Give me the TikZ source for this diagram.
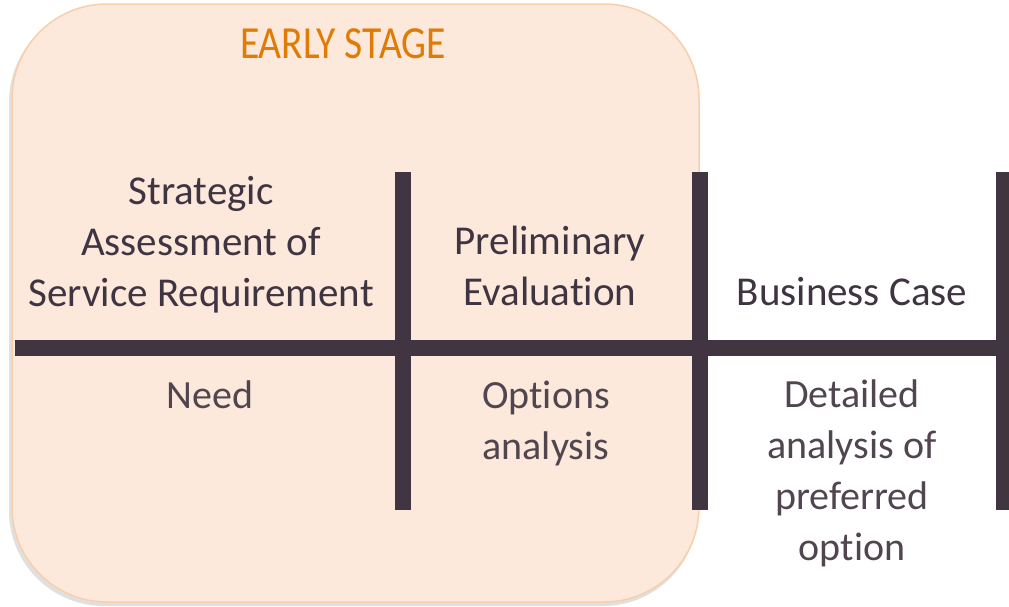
\documentclass[tikz,border=0pt]{standalone}
\usepackage{fontspec}
\setmainfont{Carlito}[RawFeature={-liga;-clig}]
\definecolor{barcol}{HTML}{413541}
\definecolor{txtcol}{HTML}{3F3441}
\definecolor{lighttxt}{HTML}{51464F}
\definecolor{panelfill}{HTML}{FCE9DB}
\definecolor{paneledge}{HTML}{F8CFAA}
\definecolor{stagecol}{HTML}{E07B06}
\tikzset{
  barline/.style={draw=barcol, line width=16pt},
  barshadow/.style={draw=black, opacity=0.18, line width=16pt},
  headtext/.style={text=txtcol, font=\fontsize{41}{50.7}\selectfont, align=center, inner sep=0pt, anchor=base},
  subtext/.style={text=lighttxt, font=\fontsize{40}{50.7}\selectfont, align=center, inner sep=0pt, anchor=base},
}
\begin{document}
\begin{tikzpicture}[x=1pt,y=-1pt]
\useasboundingbox (0,0) rectangle (1009,606);
% early stage panel
\fill[black,opacity=0.12,rounded corners=95pt] (9,7) rectangle (698,606);
\draw[fill=panelfill, draw=paneledge, line width=1.5pt, rounded corners=95pt] (12,4) rectangle (699,602);
\node[text=stagecol, font=\fontsize{46}{50}\selectfont, inner sep=0pt, anchor=base] (stage) at (343,58) {\scalebox{0.86}[1]{EARLY STAGE}};
% coordinates
\coordinate (hL) at (15,348);
\coordinate (hR) at (1009,348);
\coordinate (v1t) at (403,172);
\coordinate (v1b) at (403,510);
\coordinate (v2t) at (700,172);
\coordinate (v2b) at (700,510);
\coordinate (v3t) at (1004,172);
\coordinate (v3b) at (1004,510);
% shadows
\begin{scope}[shift={(1.5,3)}]
\draw[barshadow] (hL) -- (hR);
\draw[barshadow] (v1t) -- (v1b);
\draw[barshadow] (v2t) -- (v2b);
\draw[barshadow] (v3t) -- (v3b);
\end{scope}
% bars
\draw[barline] (hL) -- (hR);
\draw[barline] (v1t) -- (v1b);
\draw[barline] (v2t) -- (v2b);
\draw[barline] (v3t) -- (v3b);
% headings (anchor = baseline of last line)
\node[headtext] (sa) at (201,306) {Strategic\\Assessment of\\Service Requirement};
\node[headtext] (pe) at (550,305) {Preliminary\\Evaluation};
\node[headtext] (bc) at (852,305) {Business Case};
% sub texts
\node[subtext] (need) at (210,408) {Need};
\node[subtext] (opt) at (546,459) {Options\\analysis};
\node[subtext] (det) at (852,560) {Detailed\\analysis of\\preferred\\option};
\end{tikzpicture}
\end{document}
